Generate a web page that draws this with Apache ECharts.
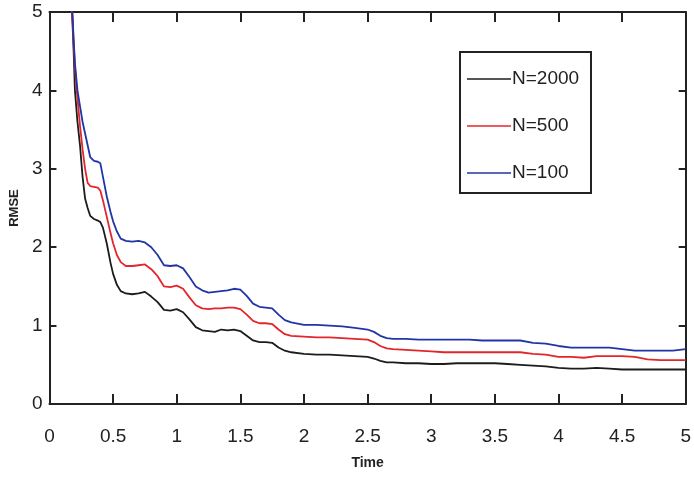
<!DOCTYPE html>
<html>
<head>
<meta charset="utf-8">
<script src="https://cdn.jsdelivr.net/npm/echarts@6/dist/echarts.min.js"></script>
<style>
  html, body { margin: 0; padding: 0; background: #fff; }
  #chart { width: 694px; height: 481px; }
</style>
</head>
<body>
<div id="chart"></div>
<script>
// Shared time grid (s)
const time = [
  0.165, 0.18, 0.19, 0.20, 0.22, 0.24, 0.26, 0.28, 0.30, 0.32, 0.35, 0.38, 0.40, 0.42,
  0.45, 0.48, 0.50, 0.53, 0.56, 0.60, 0.65, 0.70, 0.75, 0.80, 0.85, 0.90, 0.95, 1.00,
  1.05, 1.10, 1.15, 1.20, 1.25, 1.30, 1.35, 1.40, 1.45, 1.50, 1.55, 1.60, 1.65, 1.70,
  1.75, 1.80, 1.85, 1.90, 2.00, 2.10, 2.20, 2.30, 2.40, 2.50, 2.55, 2.60, 2.65, 2.70,
  2.80, 2.90, 3.00, 3.10, 3.20, 3.30, 3.40, 3.50, 3.60, 3.70, 3.80, 3.90, 4.00, 4.10,
  4.20, 4.30, 4.40, 4.50, 4.60, 4.70, 4.80, 4.90, 5.00
];

// RMSE for N = 2000 particles
const rmseN2000 = [
  5.4, 4.9, 4.5, 4.0, 3.6, 3.3, 2.9, 2.62, 2.5, 2.4, 2.36, 2.34, 2.32, 2.25,
  2.05, 1.8, 1.66, 1.52, 1.44, 1.41, 1.4, 1.41, 1.43, 1.37, 1.3, 1.2, 1.19, 1.21,
  1.17, 1.08, 0.98, 0.94, 0.93, 0.92, 0.95, 0.94, 0.95, 0.93, 0.87, 0.81, 0.79, 0.79,
  0.78, 0.72, 0.68, 0.66, 0.64, 0.63, 0.63, 0.62, 0.61, 0.6, 0.58, 0.55, 0.53, 0.53,
  0.52, 0.52, 0.51, 0.51, 0.52, 0.52, 0.52, 0.52, 0.51, 0.5, 0.49, 0.48, 0.46, 0.45,
  0.45, 0.46, 0.45, 0.44, 0.44, 0.44, 0.44, 0.44, 0.44
];

// RMSE for N = 500 particles
const rmseN500 = [
  5.4, 4.95, 4.6, 4.3, 3.9, 3.55, 3.25, 3.0, 2.82, 2.78, 2.77, 2.76, 2.72, 2.6,
  2.39, 2.18, 2.05, 1.9, 1.81, 1.76, 1.76, 1.77, 1.78, 1.72, 1.63, 1.5, 1.49, 1.51,
  1.47, 1.36, 1.26, 1.22, 1.21, 1.22, 1.22, 1.23, 1.23, 1.21, 1.14, 1.06, 1.03, 1.03,
  1.02, 0.95, 0.89, 0.87, 0.86, 0.85, 0.85, 0.84, 0.83, 0.82, 0.79, 0.74, 0.71, 0.7,
  0.69, 0.68, 0.67, 0.66, 0.66, 0.66, 0.66, 0.66, 0.66, 0.66, 0.64, 0.63, 0.6, 0.6,
  0.59, 0.61, 0.61, 0.61, 0.6, 0.57, 0.56, 0.56, 0.56
];

// RMSE for N = 100 particles
const rmseN100 = [
  5.4, 5.0, 4.65, 4.35, 4.0, 3.8, 3.6, 3.45, 3.3, 3.15, 3.1, 3.09, 3.07, 2.9,
  2.65, 2.45, 2.33, 2.2, 2.11, 2.08, 2.07, 2.08, 2.06, 2.0, 1.9, 1.77, 1.76, 1.77,
  1.73, 1.62, 1.5, 1.45, 1.42, 1.43, 1.44, 1.45, 1.47, 1.46, 1.38, 1.28, 1.24, 1.23,
  1.22, 1.14, 1.07, 1.04, 1.01, 1.01, 1.0, 0.99, 0.97, 0.95, 0.92, 0.87, 0.84, 0.83,
  0.83, 0.82, 0.82, 0.82, 0.82, 0.82, 0.81, 0.81, 0.81, 0.81, 0.78, 0.77, 0.74, 0.72,
  0.72, 0.72, 0.72, 0.7, 0.68, 0.68, 0.68, 0.68, 0.7
];

const seriesNames = ['N=2000', 'N=500', 'N=100'];
const seriesColors = ['#1c1c1c', '#e3262b', '#2135a6'];
const seriesValues = [rmseN2000, rmseN500, rmseN100];

const font = "'Liberation Sans', Arial, sans-serif";
const axisColor = '#222';

const pairs = v => time.map((t, i) => [t, v[i]]);

const chart = echarts.init(document.getElementById('chart'), null, { renderer: 'canvas' });

const frameAxis = {
  axisLine: { show: true, onZero: false, lineStyle: { color: axisColor, width: 2 } },
  splitLine: { show: false },
};

chart.setOption({
  animation: false,
  backgroundColor: '#fff',
  grid: { left: 49, right: 7, top: 12, bottom: 77 },
  xAxis: [
    Object.assign({
      type: 'value', min: 0, max: 5, interval: 0.5, position: 'bottom',
      name: 'Time', nameLocation: 'middle', nameGap: 52,
      nameTextStyle: { fontFamily: font, fontSize: 14, fontWeight: 'bold', color: '#222' },
      axisTick: { show: true, inside: true, length: 10, lineStyle: { color: axisColor, width: 2 } },
      axisLabel: { fontFamily: font, fontSize: 19, color: '#222', margin: 23 },
    }, frameAxis),
    Object.assign({
      type: 'value', min: 0, max: 5, interval: 0.5, position: 'top',
      axisTick: { show: true, inside: true, length: 10, lineStyle: { color: axisColor, width: 2 } },
      axisLabel: { show: false },
    }, frameAxis),
  ],
  yAxis: [
    Object.assign({
      type: 'value', min: 0, max: 5, interval: 1, position: 'left',
      name: 'RMSE', nameLocation: 'middle', nameGap: 25, nameRotate: 90,
      nameTextStyle: { fontFamily: font, fontSize: 13, fontWeight: 'bold', color: '#222' },
      axisTick: { show: true, inside: true, length: 7, lineStyle: { color: axisColor, width: 2 } },
      axisLabel: { fontFamily: font, fontSize: 19, color: '#222', margin: 7 },
    }, frameAxis),
    Object.assign({
      type: 'value', min: 0, max: 5, interval: 1, position: 'right',
      axisTick: { show: true, inside: true, length: 7, lineStyle: { color: axisColor, width: 2 } },
      axisLabel: { show: false },
    }, frameAxis),
  ],
  legend: {
    orient: 'vertical',
    left: 460, top: 52,
    padding: [17, 8, 12, 7],
    icon: 'rect',
    itemWidth: 44, itemHeight: 1.6,
    itemGap: 27,
    data: seriesNames,
    textStyle: { fontFamily: font, fontSize: 19, lineHeight: 20, color: '#222', padding: [0, 0, 0, -4] },
  },
  graphic: [{
    type: 'rect',
    shape: { x: 460, y: 52, width: 131, height: 141 },
    style: { fill: 'transparent', stroke: '#222', lineWidth: 2 },
    z: 100,
  }],
  series: seriesNames.map((name, i) => ({
    name,
    type: 'line',
    data: pairs(seriesValues[i]),
    xAxisIndex: 0, yAxisIndex: 0,
    showSymbol: false,
    symbol: 'none',
    clip: true,
    lineStyle: { color: seriesColors[i], width: 1.8 },
    itemStyle: { color: seriesColors[i] },
  })),
});
</script>
</body>
</html>
